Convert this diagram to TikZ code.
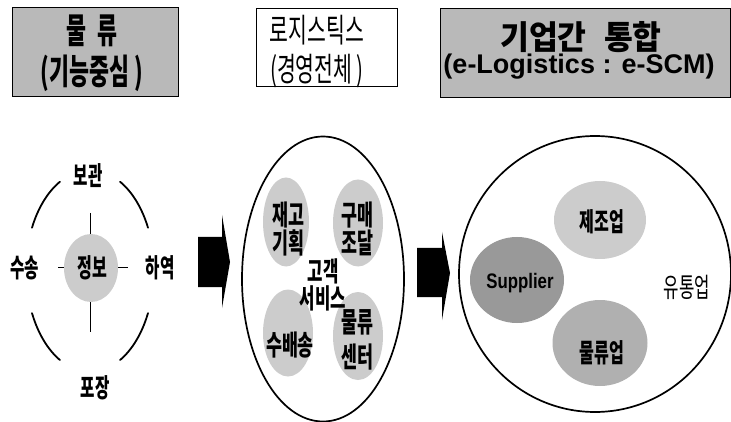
\documentclass[tikz,border=0pt]{standalone}
\usepackage{fontspec}
\usepackage{graphicx}
\usetikzlibrary{shapes.geometric}
\newfontfamily\kr{Noto Sans CJK KR}
\newfontfamily\ar{Liberation Sans}
\newcommand\hs[2]{\scalebox{#1}[1]{#2}}
\begin{document}
\begin{tikzpicture}[x=1pt,y=-1pt,
  titlebox/.style={draw=black, line width=1pt, inner sep=0pt, minimum width=#1},
  graybox/.style={fill=gray!55},
  ttl/.style={inner sep=0pt, align=center},
  lbl/.style={font=\kr\bfseries\fontsize{26}{30}\selectfont, inner sep=0pt},
  olbl/.style={font=\kr\bfseries\fontsize{28}{28}\selectfont, inner sep=0pt, align=center},
  blob/.style={ellipse, draw=none, inner sep=0pt, fill=gray!#1},
  bigoval/.style={ellipse, draw=black, line width=1.7pt, inner sep=0pt},
  arcline/.style={line width=1.8pt, line cap=round},
  blockarrow/.style={fill=black}
]
\useasboundingbox (0,0) rectangle (731,422);

% ---------- title boxes ----------
\node[titlebox=166pt, graybox, minimum height=89pt] (b1) at (95,52.5) {};
\node[ttl, font=\kr\bfseries\fontsize{35}{41}\selectfont] (b1t) at (92,53) {\hs{0.62}{물\hspace{0.5em}류}\\\hs{0.62}{(기능중심 )}};

\node[titlebox=141pt, fill=white, minimum height=78pt] (b2) at (326.5,48) {};
\node[ttl, font=\kr\fontsize{33}{39}\selectfont] (b2t) at (317,52) {\hs{0.62}{로지스틱스}\\\hs{0.62}{(경영전체 )}};

\node[titlebox=290pt, graybox, minimum height=89pt] (b3) at (585,53.5) {};
\node[ttl, font=\kr\bfseries\fontsize{33}{36}\selectfont] (b3a) at (581,37) {\hs{0.95}{기업간\hspace{0.55em}통합}};
\node[ttl, font=\ar\bfseries\fontsize{27}{30}\selectfont] (b3b) at (579,67) {(e-Logistics : e-SCM)};

% ---------- left: function centred ----------
\coordinate (lc) at (90,270);
\coordinate (vt) at (90,213);
\coordinate (vb) at (90,332);
\coordinate (hl) at (58,267);
\coordinate (hr) at (128,267);
\draw[line width=1pt] (vt) -- (vb);
\draw[line width=1pt] (hl) -- (hr);
\node[blob=40, minimum width=54pt, minimum height=68pt] (jb) at (91,268) {};
\node[lbl] (jbt) at (92,268) {\hs{0.62}{정보}};
\node[lbl] (bg) at (88,176) {\hs{0.6}{보관}};
\node[lbl] (ss) at (25,268) {\hs{0.6}{수송}};
\node[lbl] (hy) at (160,268) {\hs{0.6}{하역}};
\node[lbl] (pj) at (95,388) {\hs{0.6}{포장}};
\draw[arcline] (lc) ++(-155:64 and 100) arc[start angle=-155, end angle=-118, x radius=64, y radius=100];
\draw[arcline] (lc) ++(-62:64 and 100) arc[start angle=-62, end angle=-25, x radius=64, y radius=100];
\draw[arcline] (lc) ++(25:64 and 102) arc[start angle=25, end angle=62, x radius=64, y radius=102];
\draw[arcline] (lc) ++(118:64 and 102) arc[start angle=118, end angle=155, x radius=64, y radius=102];

% ---------- arrow 1 ----------
\fill[blockarrow] (198,237) -- (222,237) -- (222,215) -- (230,262) -- (222,308) -- (222,287) -- (198,287) -- cycle;

% ---------- middle: logistics ----------
\node[bigoval, minimum width=162pt, minimum height=285pt] (mid) at (323,279) {};
\node[blob=40, minimum width=46pt, minimum height=89pt] (o1) at (286,222) {};
\node[blob=40, minimum width=50pt, minimum height=87pt] (o2) at (358,223) {};
\node[blob=40, minimum width=50pt, minimum height=87pt] (o3) at (288,333) {};
\node[blob=40, minimum width=50pt, minimum height=88pt] (o4) at (358,336) {};
\node[olbl] (o1t) at (288,229) {\hs{0.62}{재고}\\\hs{0.62}{기획}};
\node[olbl] (o2t) at (357,229) {\hs{0.62}{구매}\\\hs{0.62}{조달}};
\node[olbl] (o3t) at (290,345) {\hs{0.62}{수배송}};
\node[olbl, font=\kr\bfseries\fontsize{28}{35}\selectfont] (o4t) at (357,340) {\hs{0.62}{물류}\\\hs{0.62}{센터}};
\node[olbl, font=\kr\bfseries\fontsize{27}{24}\selectfont] (cs) at (323,285) {\hs{0.62}{고객}\\\hs{0.62}{서비스}};

% ---------- arrow 2 ----------
\fill[blockarrow] (417,248) -- (442,248) -- (442,232) -- (450,273) -- (442,320) -- (442,297) -- (417,297) -- cycle;

% ---------- right: integration ----------
\node[bigoval, minimum width=272pt, minimum height=276pt] (rt) at (595,274) {};
\node[blob=40, minimum width=92pt, minimum height=78pt] (mf) at (600,220) {};
\node[blob=80, minimum width=94pt, minimum height=86pt] (sp) at (517,280) {};
\node[blob=62, minimum width=95pt, minimum height=86pt] (lg) at (600,343) {};
\node[lbl] (mft) at (602,222) {\hs{0.62}{제조업}};
\node[inner sep=0pt, font=\ar\bfseries\fontsize{21}{24}\selectfont] (spt) at (520,283) {\hs{0.8}{Supplier}};
\node[lbl] (lgt) at (602,353) {\hs{0.62}{물류업}};
\node[inner sep=0pt, font=\kr\fontsize{27}{30}\selectfont] (ut) at (687,287) {\hs{0.62}{유통업}};
\end{tikzpicture}
\end{document}
